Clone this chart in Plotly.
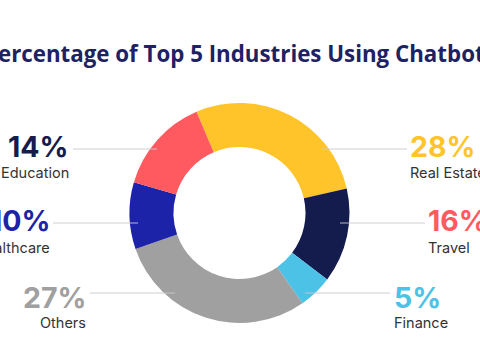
import plotly.graph_objects as go

# Data
categories = ["Real Estate", "Education", "Finance", "Others", "Healthcare", "Travel"]
slice_values = [27.8, 13.9, 5.0, 29.4, 9.8, 14.1]   # slice sizes as drawn
label_pcts = ["28%", "14%", "5%", "27%", "10%", "16%"]  # printed labels
colors = ["#FFC42A", "#141B4D", "#4DC2E7", "#A0A0A0", "#1D23A9", "#FF5A5F"]
title_text = "Percentage of Top 5 Industries Using Chatbots"

W, H = 480, 360

fig = go.Figure()
fig.add_trace(go.Pie(
    labels=categories,
    values=slice_values,
    sort=False,
    direction="clockwise",
    rotation=-23,
    hole=0.6,
    marker=dict(colors=colors, line=dict(width=0)),
    textinfo="none",
    hoverinfo="label+percent",
    showlegend=False,
    domain=dict(x=[129.5 / W, 349.5 / W], y=[1 - 323 / H, 1 - 103 / H]),
))

# label placement: (category index, side, text edge x, pct y, name y, line x0, line x1, line y)
placements = [
    (1, "left", 71, 146, 172, 73, 157, 149),
    (4, "left", 52, 220, 247, 53, 138, 223),
    (3, "left", 88, 297, 322, 90, 175, 293),
    (0, "right", 408, 146, 172, 322, 407, 149),
    (5, "right", 426, 220, 247, 340, 425, 223),
    (2, "right", 392, 297, 322, 305, 390, 293),
]

shapes = []
annotations = []
for idx, side, tx, py, ny, lx0, lx1, ly in placements:
    anchor = "right" if side == "left" else "left"
    annotations.append(dict(
        x=tx / W, y=1 - py / H, xref="paper", yref="paper",
        text=f"<b>{label_pcts[idx]}</b>", showarrow=False,
        xanchor=anchor, yanchor="middle",
        font=dict(family="Inter", size=28.5, color=colors[idx]),
    ))
    annotations.append(dict(
        x=tx / W, y=1 - ny / H, xref="paper", yref="paper",
        text=categories[idx], showarrow=False,
        xanchor=anchor, yanchor="middle",
        font=dict(family="Inter", size=14.5, color="#333333"),
    ))
    shapes.append(dict(
        type="line", xref="paper", yref="paper", layer="above",
        x0=lx0 / W, x1=lx1 / W, y0=1 - ly / H, y1=1 - ly / H,
        line=dict(color="rgba(200,200,206,0.6)", width=1.5),
    ))

annotations.append(dict(
    x=0.5, y=1 - 53 / H, xref="paper", yref="paper",
    text=f"<b>{title_text}</b>", showarrow=False,
    xanchor="center", yanchor="middle",
    font=dict(family="Open Sans", size=22.3, color="#1E2262"),
))

fig.update_layout(
    width=W, height=H,
    margin=dict(l=0, r=0, t=0, b=0),
    paper_bgcolor="white", plot_bgcolor="white",
    shapes=shapes, annotations=annotations,
)

fig.write_html("out.html", config={"displayModeBar": False},
               post_script="document.body.style.margin='0px';")
